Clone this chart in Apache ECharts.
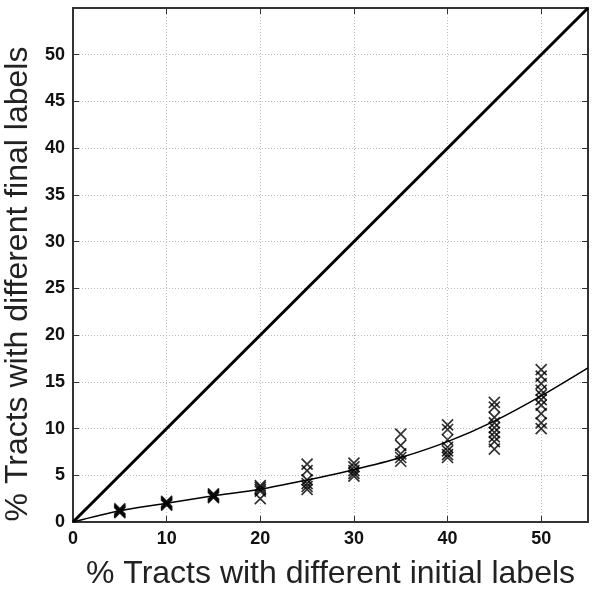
<!DOCTYPE html>
<html>
<head>
<meta charset="utf-8">
<script src="https://cdn.jsdelivr.net/npm/echarts@6/dist/echarts.min.js"></script>
<style>html,body{margin:0;padding:0;background:#fff}#c{width:600px;height:593px}</style>
</head>
<body>
<div id="c"></div>
<script>
// Observed % initial-label difference levels and the resulting % final-label differences
const levels = [5, 10, 15, 20, 25, 30, 35, 40, 45, 50];
const obs5  = [1.0, 1.1, 1.2, 1.3, 1.4];
const obs10 = [1.8, 1.9, 2.0, 2.1, 2.2];
const obs15 = [2.6, 2.7, 2.8, 2.9, 3.0];
const obs20 = [3.9, 3.7, 3.5, 3.3, 2.5];
const obs25 = [6.2, 5.5, 4.5, 4.1, 3.8, 3.5];
const obs30 = [6.3, 5.9, 5.5, 5.2, 4.9];
const obs35 = [9.4, 8.2, 7.3, 6.9, 6.5];
const obs40 = [10.4, 9.9, 8.8, 8.0, 7.6, 7.2, 6.9];
const obs45 = [12.8, 12.3, 11.2, 10.6, 10.1, 9.6, 9.1, 8.6, 7.8];
const obs50 = [16.3, 15.6, 14.8, 14.1, 13.6, 13.1, 12.5, 11.6, 10.6, 10.0];
const observations = [obs5, obs10, obs15, obs20, obs25, obs30, obs35, obs40, obs45, obs50];

// Fitted curve
const fitX = [0, 5, 10, 15, 20, 25, 30, 35, 40, 45, 50, 55];
const fitY = [0, 1.2, 2.0, 2.8, 3.5, 4.5, 5.6, 6.9, 8.6, 10.8, 13.5, 16.5];

// Identity line
const identX = [0, 55];
const identY = [0, 55];

const xTicks = [0, 10, 20, 30, 40, 50];
const yTicks = [0, 5, 10, 15, 20, 25, 30, 35, 40, 45, 50];

const xTitle = '% Tracts with different initial labels';
const yTitle = '% Tracts with different final labels';

const scatterData = [];
levels.forEach((lv, i) => observations[i].forEach(v => scatterData.push([lv, v])));

const chart = echarts.init(document.getElementById('c'));
const fam = 'Liberation Sans, Arial, sans-serif';
const tickFont = {fontFamily: fam, fontWeight: 'bold', fontSize: 18, color: '#111'};
const axisLine = {show: true, onZero: false, lineStyle: {color: '#333', width: 2}};
const tick = {show: true, inside: true, length: 6, lineStyle: {color: '#333', width: 1}};
const gridLine = {show: true, lineStyle: {color: '#bbb', type: [1, 2], width: 1}};

chart.setOption({
  animation: false,
  backgroundColor: '#fff',
  grid: {left: 73, right: 12, top: 8, bottom: 71, outerBoundsMode: 'none', containLabel: false},
  xAxis: [{
    type: 'value', min: 0, max: 55, interval: 10,
    axisLine: axisLine, axisTick: tick,
    axisLabel: Object.assign({margin: 8, formatter: v => xTicks.includes(v) ? String(v) : ''}, tickFont),
    splitLine: gridLine,
    name: xTitle, nameLocation: 'middle', nameGap: 36,
    nameTextStyle: {fontFamily: fam, fontSize: 32, color: '#222'}
  }, {
    type: 'value', position: 'top', min: 0, max: 55, interval: 10,
    axisLine: axisLine, axisTick: tick,
    axisLabel: {show: false}, splitLine: {show: false}
  }],
  yAxis: [{
    type: 'value', min: 0, max: 55, interval: 5,
    axisLine: axisLine,
    axisTick: Object.assign({}, tick, {customValues: yTicks}),
    axisLabel: Object.assign({margin: 8, formatter: v => yTicks.includes(v) ? String(v) : ''}, tickFont),
    splitLine: gridLine
  }, {
    type: 'value', position: 'right', min: 0, max: 55, interval: 5,
    axisLine: axisLine,
    axisTick: Object.assign({}, tick, {customValues: yTicks}),
    axisLabel: {show: false}, splitLine: {show: false}
  }],
  graphic: [{
    type: 'text', x: 18, y: 284, rotation: Math.PI / 2,
    style: {text: yTitle, font: '32px ' + fam, fill: '#222', align: 'center', verticalAlign: 'middle'}
  }],
  series: [{
    type: 'line', xAxisIndex: 0, yAxisIndex: 0,
    data: identX.map((x, i) => [x, identY[i]]),
    symbol: 'none', lineStyle: {color: '#000', width: 3}, z: 3
  }, {
    type: 'line', xAxisIndex: 0, yAxisIndex: 0,
    data: fitX.map((x, i) => [x, fitY[i]]),
    smooth: 0.3, symbol: 'none', lineStyle: {color: '#000', width: 1.5}, z: 3
  }, {
    type: 'scatter', xAxisIndex: 0, yAxisIndex: 0,
    data: scatterData,
    symbol: 'path://M0,0L10,10M10,0L0,10',
    symbolSize: [11, 11],
    itemStyle: {color: 'none', borderColor: '#000', borderWidth: 1.7},
    z: 4
  }]
});
</script>
</body>
</html>
